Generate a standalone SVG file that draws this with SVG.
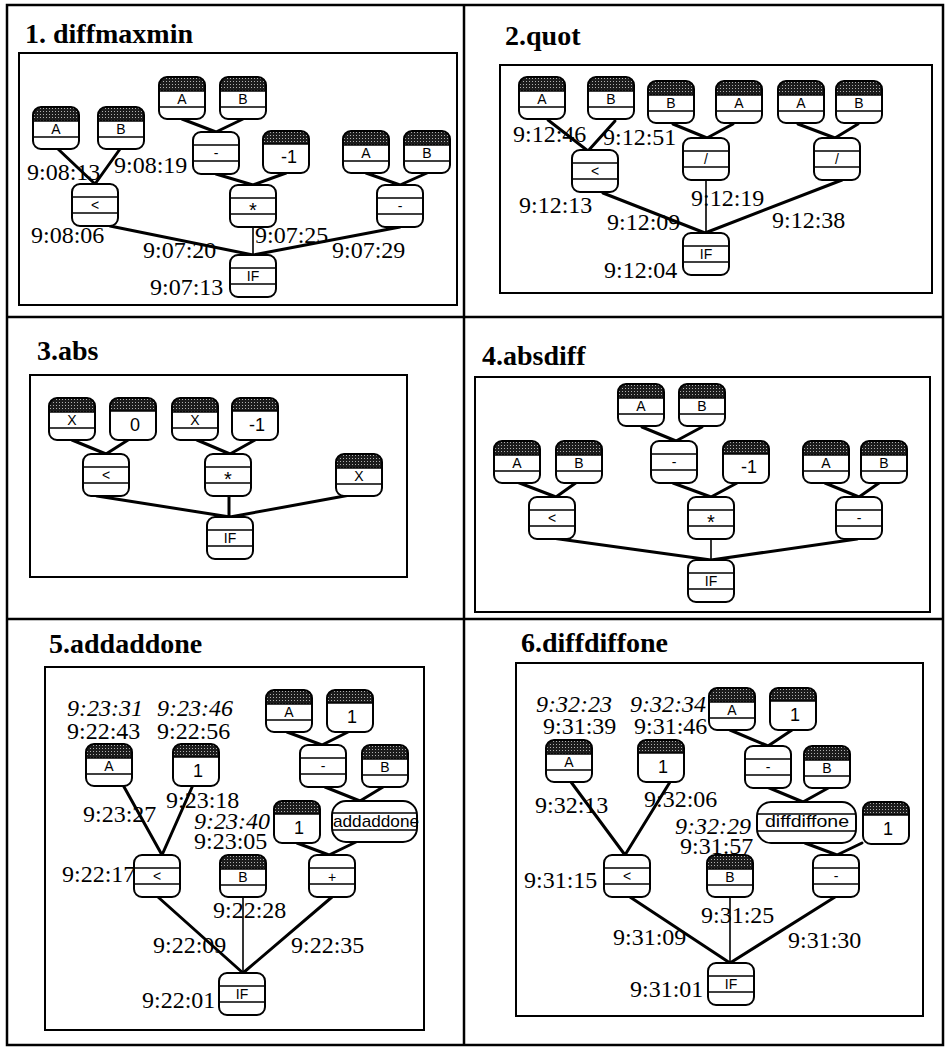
<svg xmlns="http://www.w3.org/2000/svg" width="952" height="1048" viewBox="0 0 952 1048">
<style>
.frame{fill:none;stroke:#000;stroke-width:2.5}
.box{fill:none;stroke:#000;stroke-width:2}
.title{font-family:"Liberation Serif",serif;font-weight:bold;font-size:28px;fill:#000}
.t{font-family:"Liberation Serif",serif;font-size:24px;fill:#000}
.ti{font-style:italic}
.nl{font-family:"Liberation Sans",sans-serif;font-size:14px;text-anchor:middle;fill:#000}
.big{font-size:20px}
.cl{font-family:"Liberation Sans",sans-serif;font-size:18px;text-anchor:middle;fill:#000}
.wl{font-family:"Liberation Sans",sans-serif;font-size:17px;fill:#000}
.e{stroke:#000;stroke-width:3;fill:none;stroke-linecap:round}
.e1{stroke-width:1.6}
</style>
<defs>
<pattern id="dots" width="3" height="3" patternUnits="userSpaceOnUse">
<rect width="3" height="3" fill="#1c1c1c"/>
<rect x="1" y="1" width="1" height="1" fill="#b0b0b0"/>
</pattern>
<g id="leaf">
<rect width="46" height="42" rx="8" fill="#fff"/>
<path d="M0,14 V8 A8,8 0 0 1 8,0 H38 A8,8 0 0 1 46,8 V14 Z" fill="url(#dots)"/>
<path d="M0,14 H46 M0,30 H46" stroke="#000" stroke-width="1.5"/>
<rect width="46" height="42" rx="8" fill="none" stroke="#000" stroke-width="2"/>
</g>
<g id="const">
<rect width="46" height="42" rx="8" fill="#fff"/>
<path d="M0,13 V8 A8,8 0 0 1 8,0 H38 A8,8 0 0 1 46,8 V13 Z" fill="url(#dots)"/>
<path d="M0,13 H46" stroke="#000" stroke-width="1.5"/>
<rect width="46" height="42" rx="8" fill="none" stroke="#000" stroke-width="2"/>
</g>
<g id="fn">
<rect width="46" height="42" rx="8" fill="#fff" stroke="#000" stroke-width="2"/>
<path d="M0,13 H46 M0,29 H46" stroke="#000" stroke-width="1.5"/>
</g>
<g id="wide85">
<rect width="85" height="41" rx="14" fill="#fff" stroke="#000" stroke-width="2"/>
<path d="M0,12 H85 M0,29 H85" stroke="#000" stroke-width="1.5"/>
</g>
<g id="wide99">
<rect width="99" height="41" rx="14" fill="#fff" stroke="#000" stroke-width="2"/>
<path d="M0,12 H99 M0,29 H99" stroke="#000" stroke-width="1.5"/>
</g>
</defs>
<rect width="952" height="1048" fill="#fff"/>

<g id="frame">
<rect class="frame" x="7" y="5" width="936" height="1040"/>
<line class="frame" x1="464" y1="5" x2="464" y2="1045"/>
<line class="frame" x1="7" y1="317" x2="943" y2="317"/>
<line class="frame" x1="7" y1="619" x2="943" y2="619"/>
<rect class="box" x="19" y="53" width="438" height="252"/>
<rect class="box" x="500" y="65" width="432" height="228"/>
<rect class="box" x="30" y="375" width="377" height="202"/>
<rect class="box" x="475" y="377" width="455" height="235"/>
<rect class="box" x="45" y="667" width="379" height="363"/>
<rect class="box" x="516" y="663" width="407" height="353"/>
</g>

<g id="titles">
<text class="title" x="25" y="43">1. diffmaxmin</text>
<text class="title" x="505" y="45">2.quot</text>
<text class="title" x="37" y="360">3.abs</text>
<text class="title" x="482" y="365">4.absdiff</text>
<text class="title" x="49" y="653">5.addaddone</text>
<text class="title" x="521" y="652">6.diffdiffone</text>
</g>

<g id="labels">
<text class="t" x="27" y="180">9:08:13</text>
<text class="t" x="114" y="173">9:08:19</text>
<text class="t" x="31" y="243">9:08:06</text>
<text class="t" x="143" y="258">9:07:20</text>
<text class="t" x="255" y="243">9:07:25</text>
<text class="t" x="332" y="258">9:07:29</text>
<text class="t" x="150" y="295">9:07:13</text>

<text class="t" x="513" y="142">9:12:46</text>
<text class="t" x="603" y="145">9:12:51</text>
<text class="t" x="519" y="213">9:12:13</text>
<text class="t" x="607" y="230">9:12:09</text>
<text class="t" x="691" y="206">9:12:19</text>
<text class="t" x="772" y="228">9:12:38</text>
<text class="t" x="604" y="278">9:12:04</text>

<text class="t ti" x="67" y="716">9:23:31</text>
<text class="t" x="67" y="739">9:22:43</text>
<text class="t ti" x="157" y="716">9:23:46</text>
<text class="t" x="157" y="739">9:22:56</text>
<text class="t" x="83" y="822">9:23:27</text>
<text class="t" x="166" y="808">9:23:18</text>
<text class="t ti" x="194" y="829">9:23:40</text>
<text class="t" x="194" y="849">9:23:05</text>
<text class="t" x="62" y="882">9:22:17</text>
<text class="t" x="213" y="918">9:22:28</text>
<text class="t" x="153" y="953">9:22:09</text>
<text class="t" x="291" y="953">9:22:35</text>
<text class="t" x="142" y="1008">9:22:01</text>

<text class="t ti" x="536" y="712">9:32:23</text>
<text class="t" x="543" y="734">9:31:39</text>
<text class="t ti" x="630" y="712">9:32:34</text>
<text class="t" x="634" y="734">9:31:46</text>
<text class="t" x="535" y="813">9:32:13</text>
<text class="t" x="644" y="807">9:32:06</text>
<text class="t ti" x="675" y="834">9:32:29</text>
<text class="t" x="680" y="854">9:31:57</text>
<text class="t" x="524" y="888">9:31:15</text>
<text class="t" x="701" y="923">9:31:25</text>
<text class="t" x="613" y="945">9:31:09</text>
<text class="t" x="788" y="948">9:31:30</text>
<text class="t" x="630" y="997">9:31:01</text>
</g>

<g id="connectors">
<path class="e" d="M58,149 L95,184 M120,149 L95,184"/>
<path class="e" d="M182,119 L216,132 M243,119 L216,132"/>
<path class="e" d="M216,174 L253,185 M286,173 L253,185"/>
<path class="e" d="M366,173 L400,185 M427,173 L400,185"/>
<path class="e" d="M110,226 L253,255 M400,227 L253,255"/>
<path class="e e1" d="M253,227 L253,255"/>
<path class="e" d="M548,120 L588,151 M615,121 L588,151"/>
<path class="e" d="M673,124 L707,138 M733,124 L707,138"/>
<path class="e" d="M798,124 L835,138 M858,124 L835,138"/>
<path class="e" d="M603,193 L705,233 M842,180 L705,233"/>
<path class="e e1" d="M706,180 L706,233"/>
<path class="e" d="M72,440 L106,454 M128,440 L106,454"/>
<path class="e" d="M197,440 L230,454 M255,440 L230,454"/>
<path class="e" d="M97,496 L230,517 M350,495 L230,517 M229,496 L229,517"/>
<path class="e" d="M642,427 L676,441 M702,427 L676,441"/>
<path class="e" d="M517,482 L556,497 M577,482 L556,497"/>
<path class="e" d="M673,483 L711,497 M737,483 L711,497"/>
<path class="e" d="M825,483 L859,497 M879,483 L859,497"/>
<path class="e" d="M552,538 L711,560 M857,539 L711,560"/>
<path class="e e1" d="M711,539 L711,560"/>
<path class="e" d="M123,785 L162,855 M193,785 L162,855"/>
<path class="e" d="M287,732 L322,745 M348,732 L322,745"/>
<path class="e" d="M325,787 L360,801 M383,787 L360,801"/>
<path class="e" d="M297,843 L329,855 M358,841 L329,855"/>
<path class="e" d="M158,897 L243,973 M332,897 L243,973"/>
<path class="e e1" d="M243,897 L243,973"/>
<path class="e" d="M571,782 L625,855 M670,782 L625,855"/>
<path class="e" d="M730,730 L768,746 M792,730 L768,746"/>
<path class="e" d="M767,787 L803,802 M830,787 L803,802"/>
<path class="e" d="M805,843 L837,855 M862,843 L837,855"/>
<path class="e" d="M630,897 L730,963 M835,897 L730,963"/>
<path class="e e1" d="M730,897 L730,963"/>
</g>

<g id="p1-a1"><use href="#leaf" x="33" y="107"/><text class="nl" x="56" y="134">A</text></g>
<g id="p1-b1"><use href="#leaf" x="98" y="107"/><text class="nl" x="121" y="134">B</text></g>
<g id="p1-a2"><use href="#leaf" x="159" y="77"/><text class="nl" x="182" y="104">A</text></g>
<g id="p1-b2"><use href="#leaf" x="220" y="77"/><text class="nl" x="243" y="104">B</text></g>
<g id="p1-sub1"><use href="#fn" x="193" y="132"/><text class="nl" x="216" y="158">-</text></g>
<g id="p1-neg1"><use href="#const" x="263" y="131"/><text class="cl" x="289" y="163">-1</text></g>
<g id="p1-a3"><use href="#leaf" x="343" y="131"/><text class="nl" x="366" y="158">A</text></g>
<g id="p1-b3"><use href="#leaf" x="404" y="131"/><text class="nl" x="427" y="158">B</text></g>
<g id="p1-lt"><use href="#fn" x="72" y="184"/><text class="nl" x="95" y="210">&lt;</text></g>
<g id="p1-mul"><use href="#fn" x="230" y="185"/><text class="nl big" x="253" y="217">*</text></g>
<g id="p1-sub2"><use href="#fn" x="377" y="185"/><text class="nl" x="400" y="211">-</text></g>
<g id="p1-if"><use href="#fn" x="230" y="255"/><text class="nl" x="253" y="281">IF</text></g>

<g id="p2-a1"><use href="#leaf" x="519" y="77"/><text class="nl" x="542" y="104">A</text></g>
<g id="p2-b1"><use href="#leaf" x="588" y="77"/><text class="nl" x="611" y="104">B</text></g>
<g id="p2-b2"><use href="#leaf" x="648" y="81"/><text class="nl" x="671" y="108">B</text></g>
<g id="p2-a2"><use href="#leaf" x="716" y="81"/><text class="nl" x="739" y="108">A</text></g>
<g id="p2-a3"><use href="#leaf" x="778" y="81"/><text class="nl" x="801" y="108">A</text></g>
<g id="p2-b3"><use href="#leaf" x="836" y="81"/><text class="nl" x="859" y="108">B</text></g>
<g id="p2-lt"><use href="#fn" x="572" y="150"/><text class="nl" x="595" y="176">&lt;</text></g>
<g id="p2-div1"><use href="#fn" x="683" y="138"/><text class="nl" x="706" y="164">/</text></g>
<g id="p2-div2"><use href="#fn" x="814" y="138"/><text class="nl" x="837" y="164">/</text></g>
<g id="p2-if"><use href="#fn" x="683" y="233"/><text class="nl" x="706" y="259">IF</text></g>

<g id="p3-x1"><use href="#leaf" x="49" y="398"/><text class="nl" x="72" y="425">X</text></g>
<g id="p3-zero"><use href="#const" x="110" y="398"/><text class="cl" x="135" y="431">0</text></g>
<g id="p3-x2"><use href="#leaf" x="172" y="398"/><text class="nl" x="195" y="425">X</text></g>
<g id="p3-neg1"><use href="#const" x="232" y="398"/><text class="cl" x="257" y="431">-1</text></g>
<g id="p3-lt"><use href="#fn" x="83" y="454"/><text class="nl" x="106" y="480">&lt;</text></g>
<g id="p3-mul"><use href="#fn" x="205" y="454"/><text class="nl big" x="228" y="486">*</text></g>
<g id="p3-x3"><use href="#leaf" x="336" y="454"/><text class="nl" x="359" y="481">X</text></g>
<g id="p3-if"><use href="#fn" x="207" y="517"/><text class="nl" x="230" y="543">IF</text></g>

<g id="p4-a1"><use href="#leaf" x="618" y="384"/><text class="nl" x="641" y="411">A</text></g>
<g id="p4-b1"><use href="#leaf" x="679" y="384"/><text class="nl" x="702" y="411">B</text></g>
<g id="p4-a2"><use href="#leaf" x="494" y="441"/><text class="nl" x="517" y="468">A</text></g>
<g id="p4-b2"><use href="#leaf" x="556" y="441"/><text class="nl" x="579" y="468">B</text></g>
<g id="p4-sub1"><use href="#fn" x="651" y="441"/><text class="nl" x="674" y="467">-</text></g>
<g id="p4-neg1"><use href="#const" x="723" y="441"/><text class="cl" x="749" y="473">-1</text></g>
<g id="p4-a3"><use href="#leaf" x="803" y="441"/><text class="nl" x="826" y="468">A</text></g>
<g id="p4-b3"><use href="#leaf" x="861" y="441"/><text class="nl" x="884" y="468">B</text></g>
<g id="p4-lt"><use href="#fn" x="529" y="497"/><text class="nl" x="552" y="523">&lt;</text></g>
<g id="p4-mul"><use href="#fn" x="688" y="497"/><text class="nl big" x="711" y="529">*</text></g>
<g id="p4-sub2"><use href="#fn" x="836" y="497"/><text class="nl" x="859" y="523">-</text></g>
<g id="p4-if"><use href="#fn" x="688" y="560"/><text class="nl" x="711" y="586">IF</text></g>

<g id="p5-a1"><use href="#leaf" x="86" y="744"/><text class="nl" x="109" y="771">A</text></g>
<g id="p5-one1"><use href="#const" x="173" y="744"/><text class="cl" x="198" y="777">1</text></g>
<g id="p5-a2"><use href="#leaf" x="266" y="690"/><text class="nl" x="289" y="717">A</text></g>
<g id="p5-one2"><use href="#const" x="327" y="690"/><text class="cl" x="352" y="723">1</text></g>
<g id="p5-sub"><use href="#fn" x="300" y="745"/><text class="nl" x="323" y="771">-</text></g>
<g id="p5-b1"><use href="#leaf" x="362" y="745"/><text class="nl" x="385" y="772">B</text></g>
<g id="p5-one3"><use href="#const" x="274" y="801"/><text class="cl" x="299" y="834">1</text></g>
<g id="p5-addaddone"><use href="#wide85" x="332" y="801"/><text class="wl" x="333" y="827" textLength="86" lengthAdjust="spacingAndGlyphs">addaddone</text></g>
<g id="p5-lt"><use href="#fn" x="134" y="855"/><text class="nl" x="157" y="881">&lt;</text></g>
<g id="p5-b2"><use href="#leaf" x="220" y="855"/><text class="nl" x="243" y="882">B</text></g>
<g id="p5-add"><use href="#fn" x="309" y="855"/><text class="nl" x="332" y="882">+</text></g>
<g id="p5-if"><use href="#fn" x="219" y="973"/><text class="nl" x="242" y="999">IF</text></g>

<g id="p6-a1"><use href="#leaf" x="546" y="740"/><text class="nl" x="569" y="767">A</text></g>
<g id="p6-one1"><use href="#const" x="638" y="740"/><text class="cl" x="663" y="773">1</text></g>
<g id="p6-a2"><use href="#leaf" x="709" y="688"/><text class="nl" x="732" y="715">A</text></g>
<g id="p6-one2"><use href="#const" x="770" y="688"/><text class="cl" x="795" y="721">1</text></g>
<g id="p6-sub1"><use href="#fn" x="745" y="746"/><text class="nl" x="768" y="772">-</text></g>
<g id="p6-b1"><use href="#leaf" x="804" y="746"/><text class="nl" x="827" y="773">B</text></g>
<g id="p6-diffdiffone"><use href="#wide99" x="757" y="802"/><text class="wl" x="765" y="827" textLength="84" lengthAdjust="spacingAndGlyphs">diffdiffone</text></g>
<g id="p6-one3"><use href="#const" x="863" y="802"/><text class="cl" x="888" y="835">1</text></g>
<g id="p6-lt"><use href="#fn" x="604" y="855"/><text class="nl" x="627" y="881">&lt;</text></g>
<g id="p6-b2"><use href="#leaf" x="707" y="855"/><text class="nl" x="730" y="882">B</text></g>
<g id="p6-sub2"><use href="#fn" x="813" y="855"/><text class="nl" x="836" y="881">-</text></g>
<g id="p6-if"><use href="#fn" x="708" y="963"/><text class="nl" x="731" y="989">IF</text></g>
</svg>
